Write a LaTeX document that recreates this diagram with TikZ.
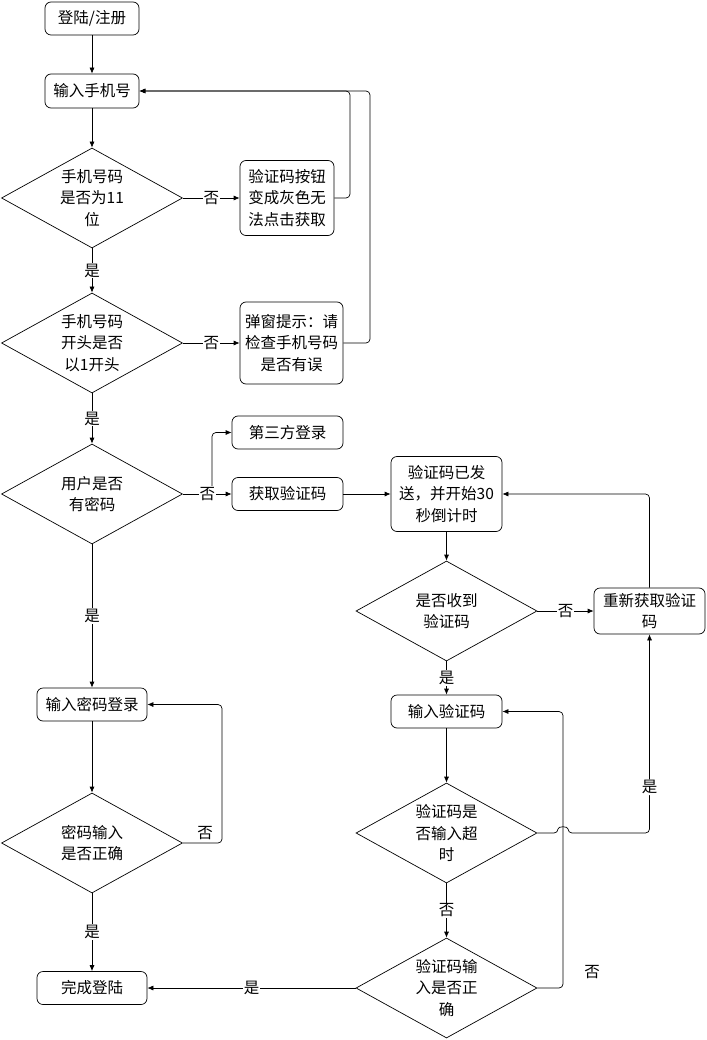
\documentclass[tikz,border=0pt]{standalone}
\usepackage{fontspec}
\newfontfamily\cjk{Noto Sans CJK SC}
\usetikzlibrary{arrows.meta,shapes.geometric}

\begin{document}
\begin{tikzpicture}[x=1pt,y=-1pt,line width=0.7pt,
            font=\cjk\fontsize{15.5}{21.5}\selectfont,
            box/.style={draw,rounded corners=6pt,align=center,inner sep=0pt},
            decision/.style={draw,diamond,shape aspect=1.81,inner sep=-6pt,
                minimum width=181pt,minimum height=100pt,align=center},
            flow/.style={-{Latex[length=6pt,width=5pt]}},
            yesno/.style={fill=white,inner sep=1pt}]
            \useasboundingbox (0,0) rectangle (706,1040);

            % left column
            \node[box,minimum width=94pt,minimum height=33pt] (login) at (92,18.5) {登陆/注册};
            \node[box,minimum width=94pt,minimum height=34pt] (phone) at (92,91) {输入手机号};
            \node[decision] (len) at (92,198) {手机号码\\是否为11\\位};
            \node[decision] (first) at (92,343) {手机号码\\开头是否\\以1开头};
            \node[decision] (haspw) at (92,494) {用户是否\\有密码};
            \node[box,minimum width=110pt,minimum height=33pt] (inputpw) at (92,704.5) {输入密码登录};
            \node[decision] (pwok) at (92,843) {密码输入\\是否正确};
            \node[box,minimum width=110pt,minimum height=33pt] (done) at (92,988) {完成登陆};

            % middle column
            \node[box,minimum width=94pt,minimum height=75pt] (grey) at (287,198) {验证码按钮\\变成灰色无\\法点击获取};
            \node[box,minimum width=103pt,minimum height=82pt] (popup) at (291.5,343) {弹窗提示：请\\检查手机号码\\是否有误};
            \node[box,minimum width=111pt,minimum height=33pt] (third) at (287.5,432.5) {第三方登录};
            \node[box,minimum width=111pt,minimum height=33pt] (getcode) at (287.5,494) {获取验证码};

            % right column
            \node[box,minimum width=111pt,minimum height=75pt] (sent) at (446.5,494) {验证码已发\\送，并开始30\\秒倒计时};
            \node[decision] (recv) at (446.5,611) {是否收到\\验证码};
            \node[box,minimum width=111pt,minimum height=46pt] (resend) at (649.5,611) {重新获取验证\\码};
            \node[box,minimum width=111pt,minimum height=33pt] (inputcode) at (446.5,711.5) {输入验证码};
            \node[decision] (timeout) at (446.5,833) {验证码是\\否输入超\\时};
            \node[decision] (codeok) at (446.5,988) {验证码输\\入是否正\\确};

            \draw[flow] (login) -- (phone);
            \draw[flow] (phone) -- (len);
            \draw[flow] (len.east) -- node[yesno] {否} (grey.west);
            \draw[flow] (len.south) -- node[yesno] {是} (first.north);
            \draw[flow] (first.east) -- node[yesno] {否} (popup.west);
            \draw[flow] (first.south) -- node[yesno] {是} (haspw.north);
            \draw[flow,rounded corners=4pt] (grey.east) -- (350,198) -- (350,91) -- (phone.east);
            \draw[flow,rounded corners=4pt] (popup.east) -- (370,343) -- (370,91) -- (phone.east);

            \coordinate (fork) at (212,494);
            \draw[flow,rounded corners=4pt] (fork) |- (third.west);
            \draw[flow] (haspw.east) -- node[yesno] {否} (getcode.west);
            \draw[flow] (getcode.east) -- (sent.west);
            \draw[flow] (sent.south) -- (recv.north);
            \draw[flow] (recv.east) -- node[yesno] {否} (resend.west);
            \draw[flow] (recv.south) -- node[yesno] {是} (inputcode.north);
            \draw[flow,rounded corners=4pt] (resend.north) |- (sent.east);
            \draw[flow] (inputcode.south) -- (timeout.north);
            \draw[flow] (timeout.south) -- node[yesno] {否} (codeok.north);
            \draw[flow,rounded corners=4pt] (codeok.east) -- (563,988) -- (563,711.5) -- (inputcode.east);
            \draw[flow,rounded corners=4pt] (timeout.east) -- (558,833) .. controls (558,826) and (568,826) .. (568,833)
                -- (649.5,833) -- node[yesno,pos=0.23] {是} (resend.south);
            \draw[flow] (codeok.west) -- node[yesno] {是} (done.east);

            \draw[flow] (haspw.south) -- node[yesno] {是} (inputpw.north);
            \draw[flow] (inputpw.south) -- (pwok.north);
            \draw[flow] (pwok.south) -- node[yesno] {是} (done.north);
            \draw[flow,rounded corners=4pt] (pwok.east) -- (222,843) -- (222,704.5) -- (inputpw.east);
            \node (pwno) at (205,833) {否};
            \node (codeno) at (592,972) {否};
        \end{tikzpicture}
\end{document}
